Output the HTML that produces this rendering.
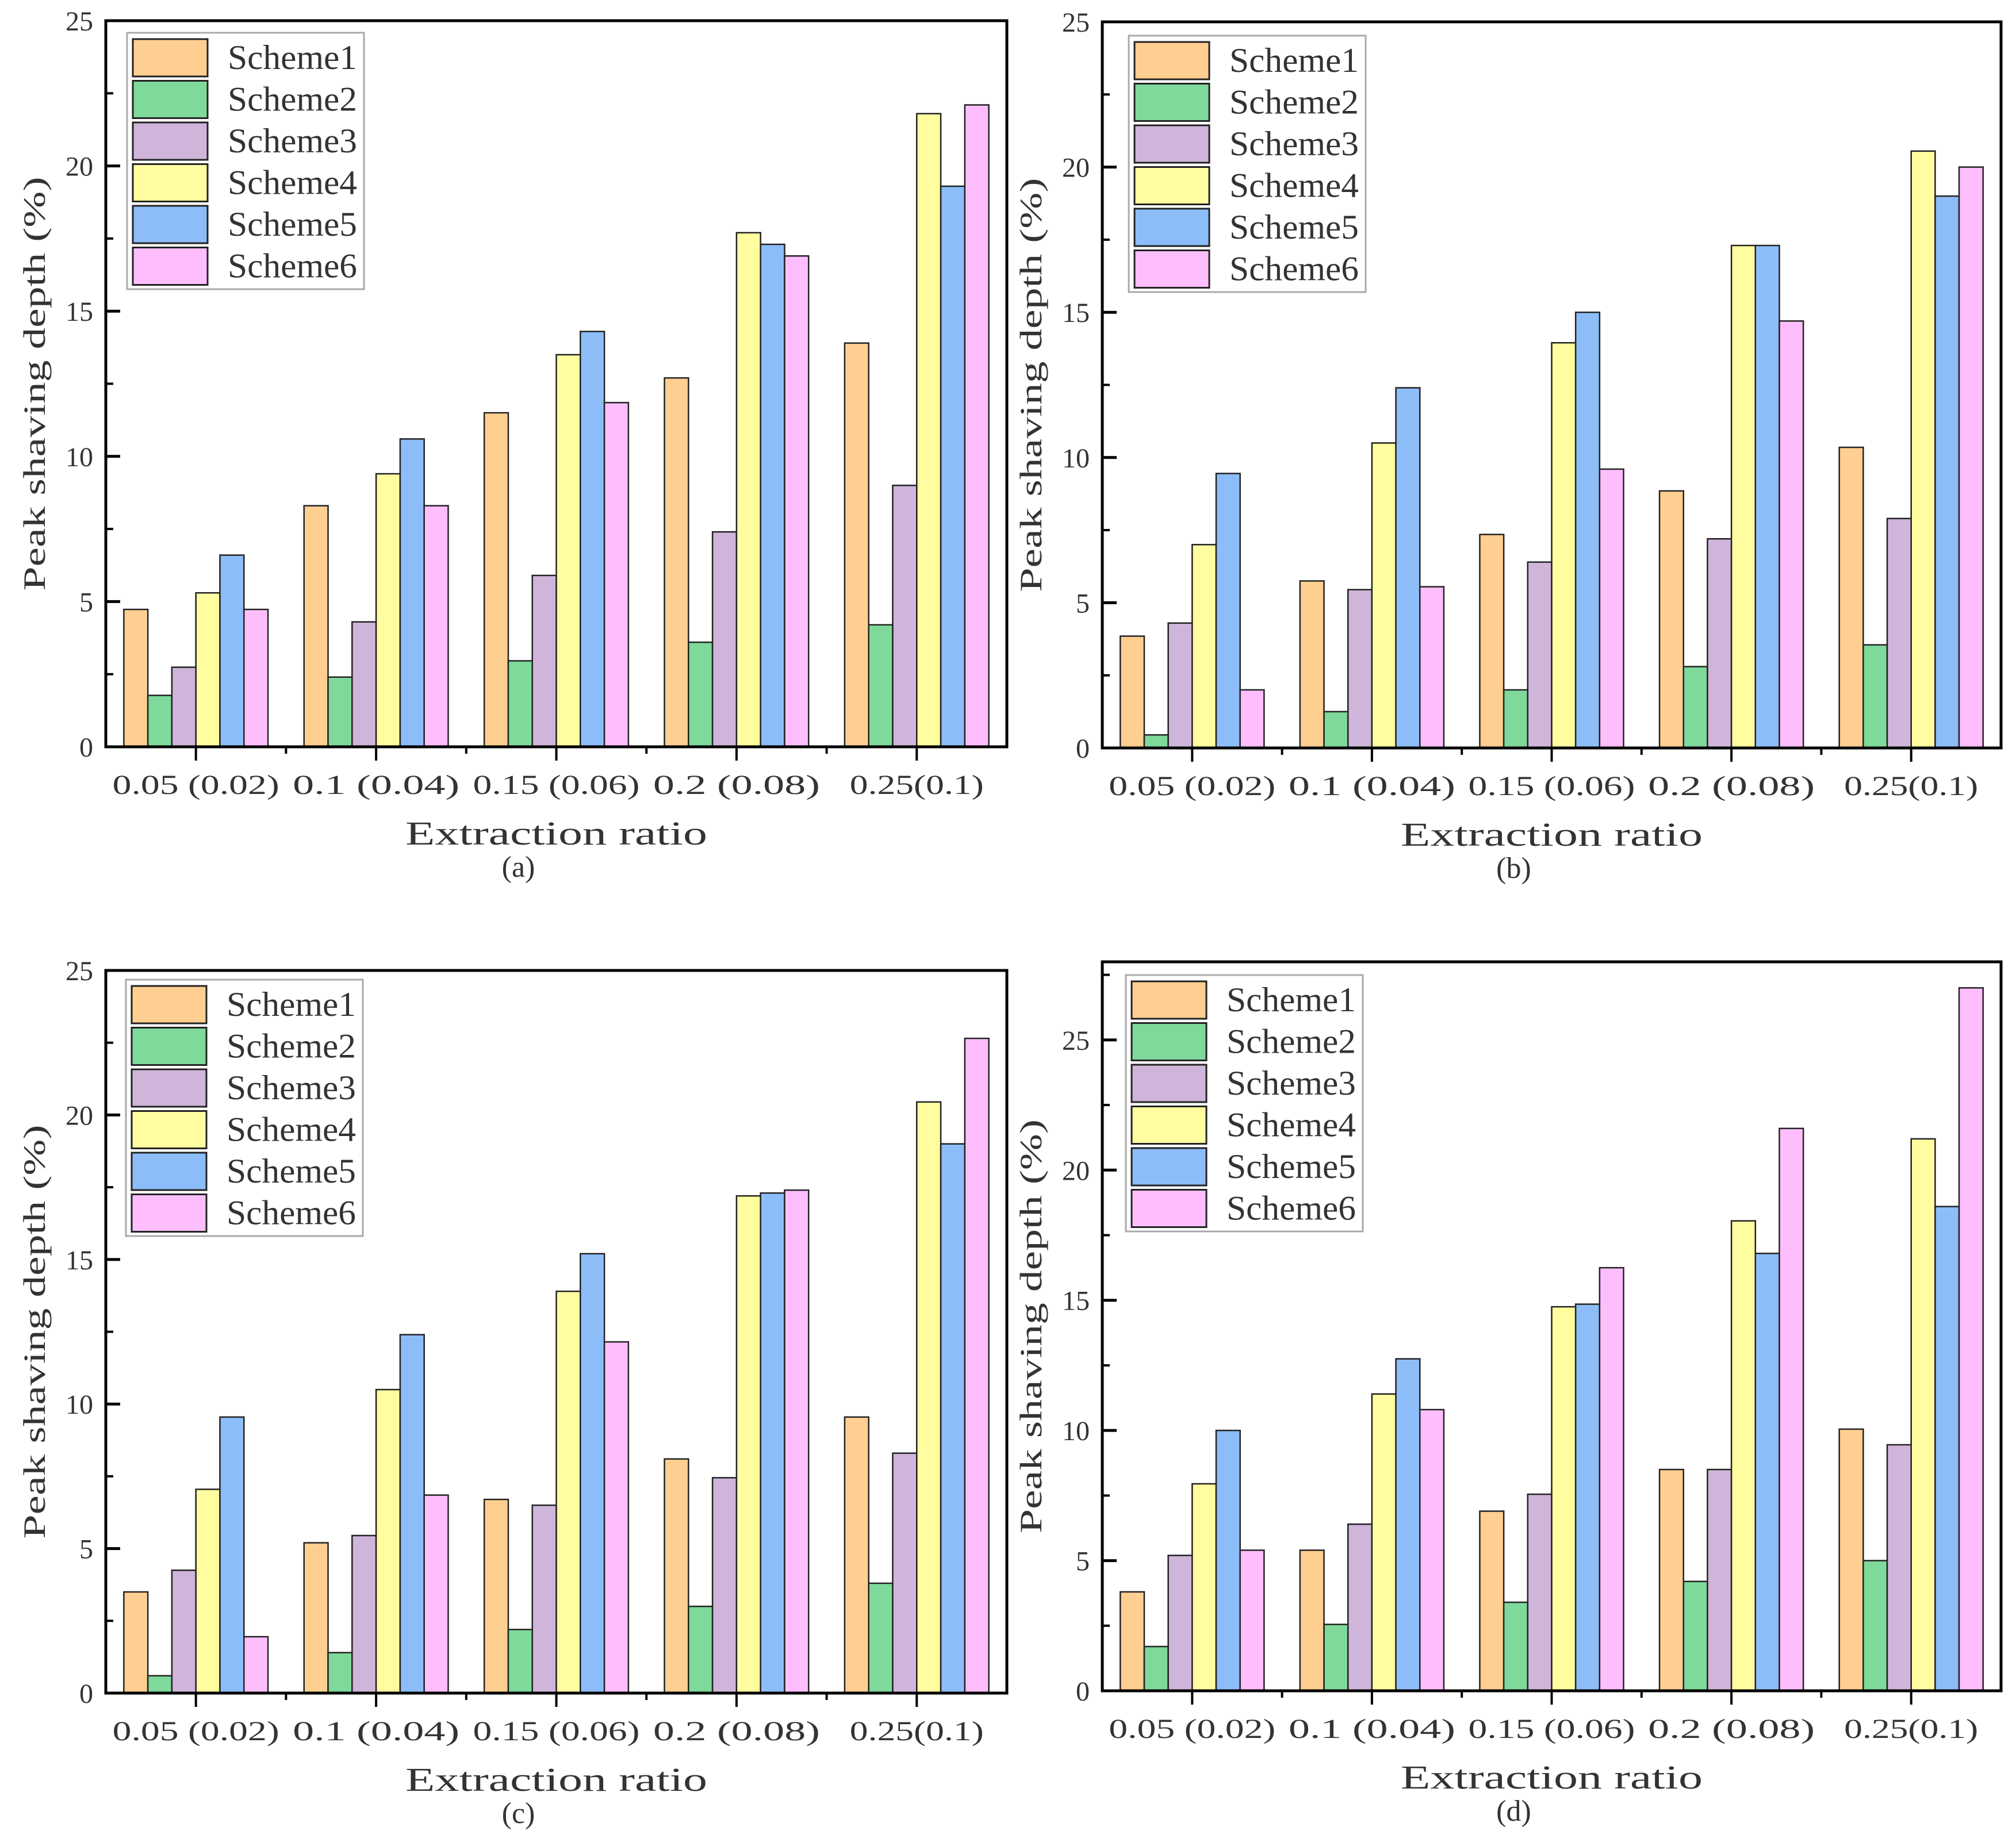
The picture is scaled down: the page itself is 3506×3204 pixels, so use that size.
<!DOCTYPE html>
<html><head><meta charset="utf-8"><style>
html,body{margin:0;padding:0;background:#fff;}
svg{display:block;font-family:"Liberation Serif","Noto Serif CJK SC",serif;}
</style></head><body>
<svg id="chart" width="3506" height="3204" viewBox="0 0 3506 3204" xmlns="http://www.w3.org/2000/svg"></svg>
<script>
const categories = ["0.05 (0.02)", "0.1 (0.04)", "0.15 (0.06)", "0.2 (0.08)", "0.25(0.1)"];
const seriesNames = ["Scheme1", "Scheme2", "Scheme3", "Scheme4", "Scheme5", "Scheme6"];
const colors = ["#FFCF91", "#7ED99A", "#D0B5DA", "#FFFD9F", "#8DBDF8", "#FEBEFE"];
const panelLabels = ["(a)", "(b)", "(c)", "(d)"];
const yMaxes = [25, 25, 25, 28];
const yTicks = [[0,5,10,15,20,25],[0,5,10,15,20,25],[0,5,10,15,20,25],[0,5,10,15,20,25]];
const valuesA = [
  [4.73, 8.3, 11.5, 12.7, 13.9],
  [1.77, 2.4, 2.96, 3.6, 4.2],
  [2.74, 4.3, 5.9, 7.4, 9.0],
  [5.3, 9.4, 13.5, 17.7, 21.8],
  [6.6, 10.6, 14.3, 17.3, 19.3],
  [4.73, 8.3, 11.85, 16.9, 22.1]
];
const valuesB = [
  [3.85, 5.75, 7.35, 8.85, 10.35],
  [0.45, 1.25, 2.0, 2.8, 3.55],
  [4.3, 5.45, 6.4, 7.2, 7.9],
  [7.0, 10.5, 13.95, 17.3, 20.55],
  [9.45, 12.4, 15.0, 17.3, 19.0],
  [2.0, 5.55, 9.6, 14.7, 20.0]
];
const valuesC = [
  [3.5, 5.2, 6.7, 8.1, 9.55],
  [0.6, 1.4, 2.2, 3.0, 3.8],
  [4.25, 5.45, 6.5, 7.45, 8.3],
  [7.05, 10.5, 13.9, 17.2, 20.45],
  [9.55, 12.4, 15.2, 17.3, 19.0],
  [1.95, 6.85, 12.15, 17.4, 22.65]
];
const valuesD = [
  [3.8, 5.4, 6.9, 8.5, 10.05],
  [1.7, 2.55, 3.4, 4.2, 5.0],
  [5.2, 6.4, 7.55, 8.5, 9.45],
  [7.95, 11.4, 14.75, 18.05, 21.2],
  [10.0, 12.75, 14.85, 16.8, 18.6],
  [5.4, 10.8, 16.25, 21.6, 27.0]
];
const allValues = [valuesA, valuesB, valuesC, valuesD];

const layouts = [
  {l:184, r:1751, t:36, b:1299, leg:{x:221,y:57}},
  {l:1917, r:3480, t:38, b:1301, leg:{x:1963,y:62}},
  {l:184, r:1751, t:1688, b:2945, leg:{x:219,y:1704}},
  {l:1917, r:3480, t:1673, b:2941, leg:{x:1958,y:1696}}
];
const svg = document.getElementById('chart');
const NS = "http://www.w3.org/2000/svg";
function mk(tag, attrs, parent){
  const e = document.createElementNS(NS, tag);
  for (const k in attrs) e.setAttribute(k, attrs[k]);
  parent.appendChild(e);
  return e;
}
layouts.forEach((L, p) => {
  const g = mk('g', {}, svg);
  
  
  const yMax = yMaxes[p];
  const yScale = v => L.b - v / yMax * (L.b - L.t);
  const gw = (L.r - L.l) / categories.length;
  const bw = gw * 0.8 / seriesNames.length;
  const xCenter = i => L.l + gw * (i + 0.5);
  const vals = allValues[p];
  vals.forEach((row, s) => {
    row.forEach((v, i) => {
      const x = xCenter(i) - gw * 0.4 + s * bw;
      const y = yScale(v);
      const r = mk('rect', {x:x, y:y, width:bw, height:L.b - y, fill:colors[s], stroke:'#222', 'stroke-width':2.5}, g);
      
      
    });
  });
  const fr = mk('rect', {x:L.l, y:L.t, width:L.r-L.l, height:L.b-L.t, fill:'none', stroke:'#000', 'stroke-width':5}, g);
  
  
  yTicks[p].forEach(t => {
    const y = yScale(t);
    mk('line', {x1:L.l, x2:L.l+25, y1:y, y2:y, stroke:'#000', 'stroke-width':5}, g);
    const tl = mk('text', {x:L.l-22, y:y+17, 'font-size':48, 'text-anchor':'end', fill:'#333'}, g);
    tl.textContent = t;
    
    
    const m = t + 2.5;
    if (m < yMax) {
      const ym = yScale(m);
      mk('line', {x1:L.l, x2:L.l+13, y1:ym, y2:ym, stroke:'#000', 'stroke-width':4}, g);
    }
  });
  categories.forEach((c, i) => {
    const x = xCenter(i);
    mk('line', {x1:x, x2:x, y1:L.b, y2:L.b+24, stroke:'#000', 'stroke-width':4}, g);
    if (i > 0) mk('line', {x1:L.l+gw*i, x2:L.l+gw*i, y1:L.b, y2:L.b+12, stroke:'#000', 'stroke-width':4}, g);
    const tl = mk('text', {x:x, y:L.b+82, 'font-size':48, 'text-anchor':'middle', fill:'#333',
      textLength: c.length > 9 ? 290 : 233, lengthAdjust:'spacingAndGlyphs'}, g);
    tl.textContent = c;
    
    
  });
  const cx = (L.l + L.r) / 2;
  const xt = mk('text', {x:cx, y:L.b+170, 'font-size':58, 'text-anchor':'middle', fill:'#333', textLength:525, lengthAdjust:'spacingAndGlyphs'}, g);
  xt.textContent = 'Extraction ratio';
  
  
  const cap = mk('text', {x:cx-66, y:L.b+226, 'font-size':52, 'text-anchor':'middle', fill:'#333'}, g);
  cap.textContent = panelLabels[p];
  
  
  const cy = (L.t + L.b) / 2;
  const yx = L.l - 106;
  const yt = mk('text', {x:yx, y:cy, 'font-size':54, 'text-anchor':'middle', fill:'#333', transform:`rotate(-90 ${yx} ${cy})`, textLength:720, lengthAdjust:'spacingAndGlyphs'}, g);
  yt.textContent = 'Peak shaving depth (%)';
  
  
  const lg = mk('g', {}, g);
  
  
  mk('rect', {x:L.leg.x, y:L.leg.y, width:412, height:446, fill:'#fff', stroke:'#aaa', 'stroke-width':3}, lg);
  seriesNames.forEach((n, s) => {
    const ry = L.leg.y + 11 + s * 72.5;
    const e = mk('g', {}, lg);
    
    
    mk('rect', {x:L.leg.x+10, y:ry, width:130, height:65, fill:colors[s], stroke:'#222', 'stroke-width':3}, e);
    const t = mk('text', {x:L.leg.x+175, y:ry+52, 'font-size':60, fill:'#333', textLength:225, lengthAdjust:'spacingAndGlyphs'}, e);
    t.textContent = n;
  });
});
</script>
</body></html>
